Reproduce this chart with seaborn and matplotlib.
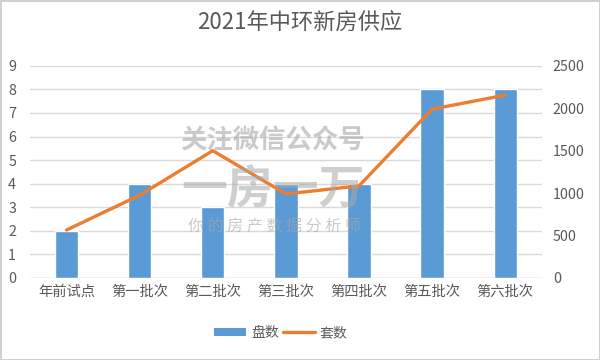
import matplotlib
matplotlib.use("Agg")
import matplotlib.pyplot as plt
import seaborn as sns
import numpy as np
import pandas as pd
from matplotlib.patches import Patch
from matplotlib.lines import Line2D

categories = ["年前试点", "第一批次", "第二批次", "第三批次", "第四批次", "第五批次", "第六批次"]
pan_shu = [2, 4, 3, 4, 4, 8, 8]
tao_shu = [565, 975, 1500, 990, 1085, 1990, 2155]
left_ticks = list(range(0, 10))
right_ticks = [0, 500, 1000, 1500, 2000, 2500]

sns.set_theme(style="white")
plt.rcParams['font.family'] = ['Noto Sans CJK SC', 'DejaVu Sans']

txt = "#595959"
grid_c = "#D9D9D9"

fig = plt.figure(figsize=(6, 3.6), dpi=100)
fig.patch.set_facecolor("white")
fig.patch.set_edgecolor("#D0D0D0")
fig.patch.set_linewidth(2)
ax = fig.add_axes([0.05, 0.228, 0.853, 0.589])

df = pd.DataFrame({"cat": categories, "pan": pan_shu, "tao": tao_shu})
sns.barplot(data=df, x="cat", y="pan", color="#5B9BD5", width=0.32,
            saturation=1, ax=ax, zorder=2)
ax.set_ylim(0, 9)
ax.set_yticks(left_ticks)
ax.set_xlim(-0.5, 6.5)
ax.yaxis.grid(True, color=grid_c, linewidth=1)
ax.set_axisbelow(True)
ax.set_xlabel("")
ax.set_ylabel("")
for s in ax.spines.values():
    s.set_visible(False)
ax.tick_params(axis="both", length=0, labelsize=10.3, colors=txt, pad=5)
ax.tick_params(axis="y", pad=10)
ax.axhline(0, color=grid_c, linewidth=1, zorder=1)
if ax.get_legend() is not None:
    ax.get_legend().remove()

ax2 = ax.twinx()
sns.lineplot(x=np.arange(len(categories)), y=tao_shu, ax=ax2, color="#ED7D31",
             linewidth=2.4, legend=False, zorder=3)
ax2.set_ylim(0, 2500)
ax2.set_yticks(right_ticks)
ax2.set_xlim(-0.5, 6.5)
for s in ax2.spines.values():
    s.set_visible(False)
ax2.tick_params(axis="y", length=0, labelsize=10.3, colors=txt, pad=8)
ax2.grid(False)
ax2.set_ylabel("")

fig.text(0.5, 0.937, "2021年中环新房供应", ha="center", va="center",
         fontsize=16, color=txt)

# watermark
wm = "#A8A8A8"
fig.text(0.455, 0.608, "关注微信公众号", ha="center", va="center",
         fontsize=19, color=wm, alpha=0.6, fontweight="bold", zorder=5)
fig.text(0.455, 0.472, "一房一万", ha="center", va="center",
         fontsize=33, color=wm, alpha=0.55, fontweight="bold", zorder=5)
fig.text(0.458, 0.37, "你 的 房 产 数 据 分 析 师", ha="center", va="center",
         fontsize=11.5, color=wm, alpha=0.6, zorder=5)

handles = [Patch(facecolor="#5B9BD5", edgecolor="none"),
           Line2D([0], [0], color="#ED7D31", linewidth=2.4)]
leg = fig.legend(handles, ["盘数", "套数"], loc="center", bbox_to_anchor=(0.468, 0.075),
                 ncol=2, frameon=False, fontsize=10, handlelength=2.3,
                 handleheight=0.55, columnspacing=0.3, handletextpad=0.35)
for t in leg.get_texts():
    t.set_color(txt)

fig.savefig("out.png", dpi=100)
